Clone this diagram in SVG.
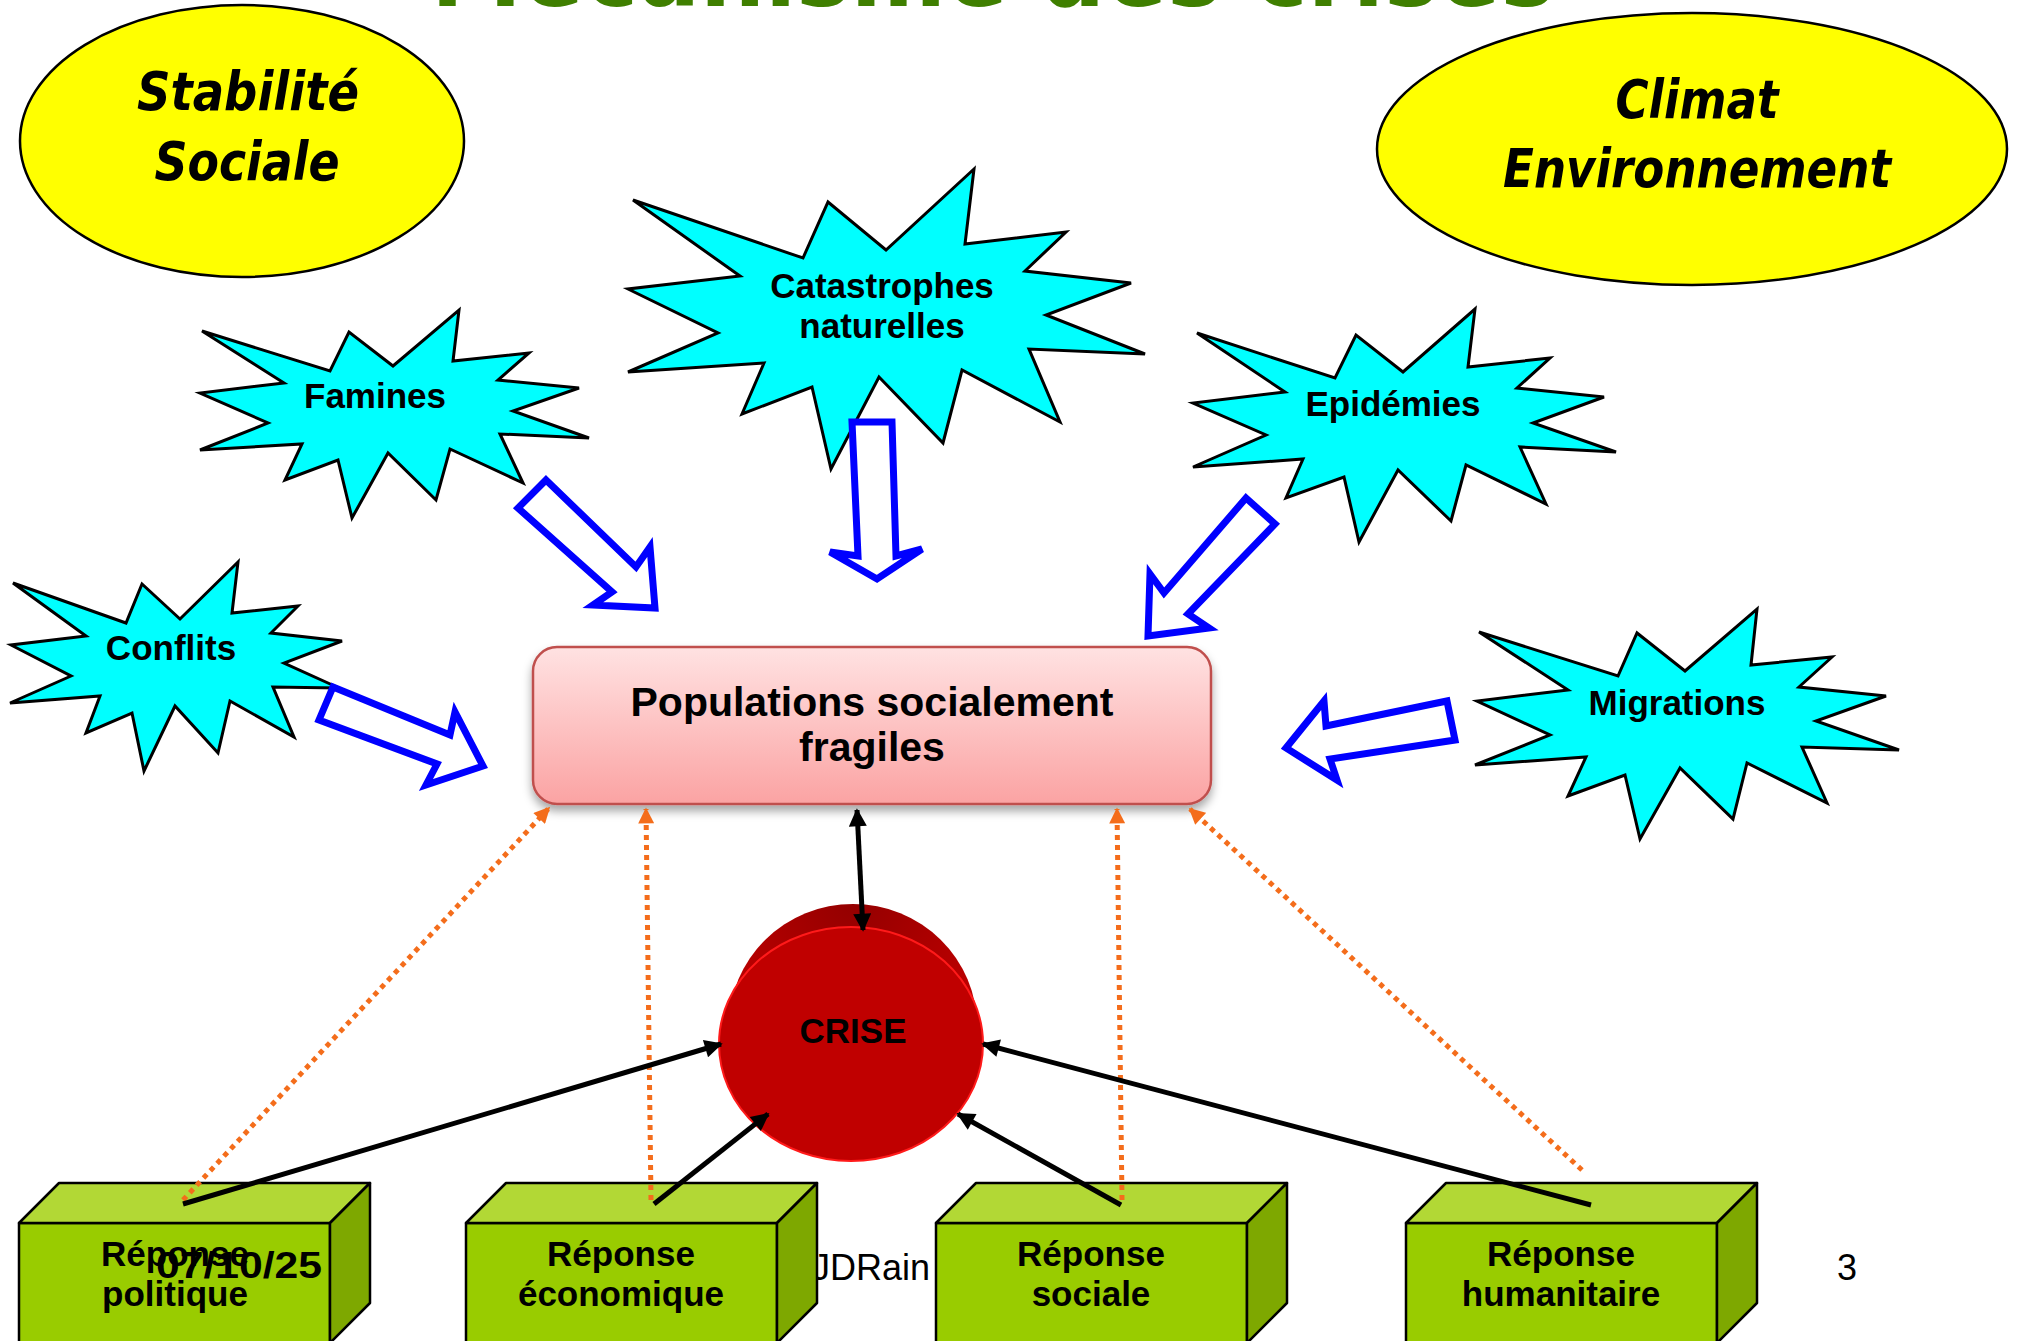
<svg xmlns="http://www.w3.org/2000/svg" width="2018" height="1341" viewBox="0 0 2018 1341">
<style>
.bg{fill:#ffffff}
.comic{font-family:"Comic Sans MS","DejaVu Sans",sans-serif;font-weight:bold;font-style:italic;fill:#000}
.title{font-family:"Comic Sans MS","DejaVu Sans",sans-serif;font-weight:bold;fill:#3f7f00}
.oval{fill:#ffff00;stroke:#000;stroke-width:2.5}
.star{fill:#00ffff;stroke:#000;stroke-width:3;stroke-linejoin:miter}
.lbl{font-family:"Liberation Sans",Arial,sans-serif;font-weight:bold;font-size:35px;fill:#000;text-anchor:middle}
.big{font-size:41px}
.blk{fill:none;stroke:#0000ff;stroke-width:7;stroke-linejoin:miter}
.blkfill{fill:#ffffff}
.front{fill:#99cc00;stroke:#000;stroke-width:2.5;stroke-linejoin:round}
.top{fill:#b2d835;stroke:#000;stroke-width:2.5;stroke-linejoin:round}
.side{fill:#7ea800;stroke:#000;stroke-width:2.5;stroke-linejoin:round}
.black{fill:none;stroke:#000;stroke-width:5}
.orange{fill:none;stroke:#f46d1b;stroke-width:5;stroke-dasharray:5 5}
.foot{font-family:"Liberation Sans",Arial,sans-serif;font-size:36px;fill:#000}
</style>
<defs>
<linearGradient id="popGrad" x1="0" y1="0" x2="0" y2="1">
<stop offset="0" stop-color="#ffe2e2"/>
<stop offset="1" stop-color="#fba3a3"/>
</linearGradient>
<radialGradient id="backGrad" cx="0.5" cy="0.0" r="0.7">
<stop offset="0" stop-color="#940000"/>
<stop offset="1" stop-color="#c40000"/>
</radialGradient>
<filter id="shadow" x="-10%" y="-10%" width="120%" height="140%">
<feDropShadow dx="0" dy="6" stdDeviation="5" flood-color="#000" flood-opacity="0.35"/>
</filter>
<marker id="ahBlack" viewBox="0 0 10 10" refX="9" refY="5" markerWidth="4.2" markerHeight="3.6" orient="auto-start-reverse" markerUnits="strokeWidth">
<path d="M0,0 L10,5 L0,10 z" fill="#000"/>
</marker>
<marker id="ahOrange" viewBox="0 0 10 10" refX="9" refY="5" markerWidth="3.4" markerHeight="3.2" orient="auto" markerUnits="strokeWidth">
<path d="M0,0 L10,5 L0,10 z" fill="#f46d1b"/>
</marker>
</defs>
<rect class="bg" x="0" y="0" width="2018" height="1341"/>

<text class="title" x="993" y="6" font-size="100" text-anchor="middle" textLength="1124" lengthAdjust="spacingAndGlyphs">Mécanisme des crises</text>

<g id="stabilite">
<ellipse class="oval" cx="242" cy="141" rx="222" ry="136"/>
<text class="comic" x="248" y="110" font-size="54" text-anchor="middle" textLength="222" lengthAdjust="spacingAndGlyphs">Stabilité</text>
<text class="comic" x="247" y="180" font-size="54" text-anchor="middle" textLength="185" lengthAdjust="spacingAndGlyphs">Sociale</text>
</g>

<g id="climat">
<ellipse class="oval" cx="1692" cy="149" rx="315" ry="136"/>
<text class="comic" x="1697" y="118" font-size="54" text-anchor="middle" textLength="163" lengthAdjust="spacingAndGlyphs">Climat</text>
<text class="comic" x="1697" y="187" font-size="54" text-anchor="middle" textLength="388" lengthAdjust="spacingAndGlyphs">Environnement</text>
</g>

<g id="famines">
<polygon class="star" points="202,331 330,371 349,332 393,366 459,310 453,361 529,353 498,380 579,388 513,411 589,438 500,434 523,483 450,449 436,500 388,453 352,518 338,460 285,480 302,444 200,450 268,423 200,393 284,383"/>
<text class="lbl" x="375" y="408">Famines</text>
</g>

<g id="conflits">
<polygon class="star" points="13,583 126,623 142,584 180,619 238,562 232,613 298,606 271,633 342,641 284,663 339,688 273,687 294,737 230,701 218,753 175,706 144,771 132,713 86,733 100,696 10,703 71,676 11,645 86,636"/>
<text class="lbl" x="171" y="660">Conflits</text>
</g>

<g id="catastrophes">
<polygon class="star" points="633,200 803,258 828,202 886,250 974,169 965,244 1066,232 1025,271 1131,283 1046,315 1145,354 1029,349 1060,422 962,370 943,443 879,377 831,469 812,387 742,414 764,363 628,372 718,333 628,289 740,276"/>
<text class="lbl" x="882" y="298">Catastrophes</text>
<text class="lbl" x="882" y="338">naturelles</text>
</g>

<g id="epidemies">
<polygon class="star" points="1197,333 1335,378 1356,335 1403,372 1475,309 1468,367 1550,358 1517,388 1604,397 1533,423 1616,452 1520,447 1546,504 1466,465 1451,521 1398,470 1359,542 1344,477 1286,498 1303,459 1193,467 1266,435 1193,403 1285,392"/>
<text class="lbl" x="1393" y="416">Epidémies</text>
</g>

<g id="migrations">
<polygon class="star" points="1479,632 1618,676 1637,633 1685,671 1757,609 1751,665 1832,657 1799,687 1886,696 1816,721 1899,750 1802,747 1827,803 1747,763 1733,819 1680,768 1640,839 1625,775 1568,796 1586,757 1475,765 1550,735 1477,701 1568,690"/>
<text class="lbl" x="1677" y="715">Migrations</text>
</g>

<g id="populations">
<rect x="533" y="647" width="678" height="157" rx="24" ry="24" fill="url(#popGrad)" stroke="#c0504d" stroke-width="2.5" filter="url(#shadow)"/>
<text class="lbl big" x="872" y="716">Populations socialement</text>
<text class="lbl big" x="872" y="761">fragiles</text>
</g>

<g id="crise">
<ellipse cx="853" cy="1026" rx="124" ry="122" fill="url(#backGrad)"/>
<ellipse cx="851" cy="1044" rx="132" ry="117" fill="#c00000" stroke="#ff1a1a" stroke-width="2"/>
<text class="lbl" x="853" y="1043">CRISE</text>
</g>

<text class="foot" x="812" y="1280" font-size="35">JDRain</text>

<g id="rep-politique">
<polygon class="front" points="19,1223 330,1223 330,1360 19,1360"/>
<polygon class="top" points="19,1223 59,1183 370,1183 330,1223"/>
<polygon class="side" points="330,1223 370,1183 370,1303 330,1343"/>
<text class="lbl" x="175" y="1266">Réponse</text>
<text class="lbl" x="175" y="1306">politique</text>
</g>

<g id="rep-economique">
<polygon class="front" points="466,1223 777,1223 777,1360 466,1360"/>
<polygon class="top" points="466,1223 506,1183 817,1183 777,1223"/>
<polygon class="side" points="777,1223 817,1183 817,1303 777,1343"/>
<text class="lbl" x="621" y="1266">Réponse</text>
<text class="lbl" x="621" y="1306">économique</text>
</g>

<g id="rep-sociale">
<polygon class="front" points="936,1223 1247,1223 1247,1360 936,1360"/>
<polygon class="top" points="936,1223 976,1183 1287,1183 1247,1223"/>
<polygon class="side" points="1247,1223 1287,1183 1287,1303 1247,1343"/>
<text class="lbl" x="1091" y="1266">Réponse</text>
<text class="lbl" x="1091" y="1306">sociale</text>
</g>

<g id="rep-humanitaire">
<polygon class="front" points="1406,1223 1717,1223 1717,1360 1406,1360"/>
<polygon class="top" points="1406,1223 1446,1183 1757,1183 1717,1223"/>
<polygon class="side" points="1717,1223 1757,1183 1757,1303 1717,1343"/>
<text class="lbl" x="1561" y="1266">Réponse</text>
<text class="lbl" x="1561" y="1306">humanitaire</text>
</g>

<g id="connectors">
<g id="influences">
<polygon class="blk blkfill" points="546,480 636,567 650,547 655,608 593,605 612,592 518,508"/>
<polygon class="blk blkfill" points="333,687 450,735 455,712 483,766 426,785 437,764 319,720"/>
<polygon class="blk blkfill" points="852,422 892,422 896,556 922,549 877,579 830,552 858,556"/>
<polygon class="blk blkfill" points="1246,498 1275,524 1188,614 1209,628 1148,636 1150,574 1164,593"/>
<polygon class="blk blkfill" points="1447,701 1455,740 1330,759 1337,780 1286,748 1324,701 1326,726"/>
</g>
<g id="feedback">
<line class="orange" x1="183" y1="1200" x2="549" y2="808" marker-end="url(#ahOrange)"/>
<line class="orange" x1="651" y1="1200" x2="646" y2="809" marker-end="url(#ahOrange)"/>
<line class="orange" x1="1122" y1="1200" x2="1117" y2="809" marker-end="url(#ahOrange)"/>
<line class="orange" x1="1582" y1="1170" x2="1190" y2="809" marker-end="url(#ahOrange)"/>
</g>
<g id="responses">
<line class="black" x1="183" y1="1204" x2="721" y2="1044" marker-end="url(#ahBlack)"/>
<line class="black" x1="654" y1="1204" x2="768" y2="1114" marker-end="url(#ahBlack)"/>
<line class="black" x1="1121" y1="1205" x2="958" y2="1114" marker-end="url(#ahBlack)"/>
<line class="black" x1="1591" y1="1205" x2="983" y2="1044" marker-end="url(#ahBlack)"/>
</g>
<line class="black" x1="857" y1="810" x2="863" y2="930" stroke-width="6.5" marker-start="url(#ahBlack)" marker-end="url(#ahBlack)"/>
</g>

<text class="foot" x="239" y="1278" font-weight="bold" text-anchor="middle" textLength="166" lengthAdjust="spacingAndGlyphs">07/10/25</text>
<text class="foot" x="1847" y="1280" font-size="35" text-anchor="middle">3</text>
</svg>
